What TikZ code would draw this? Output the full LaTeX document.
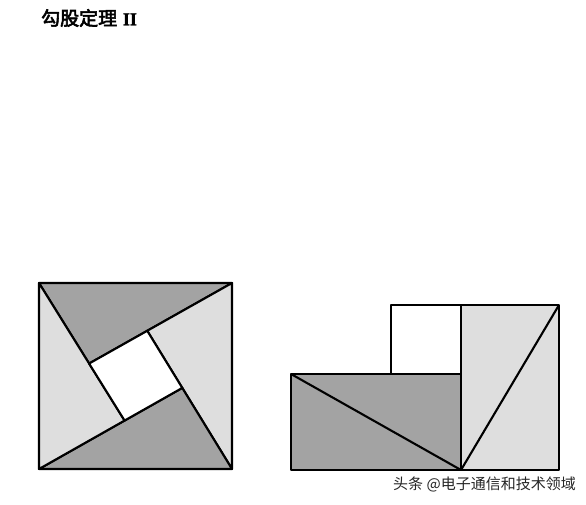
\documentclass[tikz,border=0pt]{standalone}
\usepackage{fontspec}
\newfontfamily\cjk{Noto Sans CJK SC}
\newfontfamily\cjkb[FakeBold=3]{Noto Sans CJK SC}
\newfontfamily\romanb[FakeBold=2]{Liberation Serif Bold}
\definecolor{darkfill}{gray}{0.64}
\definecolor{lightfill}{gray}{0.87}
\tikzset{
  edge/.style={draw=black, line width=2.1pt, line join=round},
  darkpiece/.style={edge, fill=darkfill},
  lightpiece/.style={edge, fill=lightfill},
  whitepiece/.style={edge, fill=white},
}
\begin{document}
\begin{tikzpicture}[x=1pt,y=-1pt]
\useasboundingbox (0,0) rectangle (586,505);
\fill[white] (0,0) rectangle (586,505);
% title
\node[anchor=west, inner sep=0pt, font=\cjkb\fontsize{19}{21}\selectfont] (title) at (41,18) {勾股定理\hspace{0.3em}{\romanb\fontsize{18}{21}\selectfont II}};
% left square
\coordinate (TL) at (39,283);
\coordinate (TR) at (232,283);
\coordinate (BR) at (232,469);
\coordinate (BL) at (39,469);
\coordinate (D1) at (123,418);
\coordinate (D2) at (90,363);
\coordinate (D3) at (148,332);
\coordinate (D4) at (182,388);
\coordinate (P1) at (intersection of TL--D1 and TR--D2);
\coordinate (P2) at (intersection of TR--D2 and BR--D3);
\coordinate (P3) at (intersection of BR--D3 and BL--D4);
\coordinate (P4) at (intersection of BL--D4 and TL--D1);
\path[darkpiece] (TL) -- (TR) -- (P1) -- cycle;
\path[lightpiece] (TR) -- (BR) -- (P2) -- cycle;
\path[darkpiece] (BR) -- (BL) -- (P3) -- cycle;
\path[lightpiece] (BL) -- (TL) -- (P4) -- cycle;
\path[whitepiece] (P1) -- (P2) -- (P3) -- (P4) -- cycle;
% right figure
\coordinate (S1) at (391,305);
\coordinate (S2) at (461,305);
\coordinate (S3) at (461,374);
\coordinate (S4) at (391,374);
\coordinate (R1) at (291,374);
\coordinate (R2) at (291,470);
\coordinate (M) at (461,470);
\coordinate (Q1) at (559,305);
\coordinate (Q2) at (559,470);
\path[darkpiece] (R1) -- (S3) -- (M) -- (R2) -- cycle;
\draw[edge] (R1) -- (M);
\path[lightpiece] (S2) -- (Q1) -- (Q2) -- (M) -- cycle;
\draw[edge] (M) -- (Q1);
\path[whitepiece] (S1) -- (S2) -- (S3) -- (S4) -- cycle;
% watermark
\node[inner sep=0pt, text=black!85, font=\cjk\fontsize{15}{18}\selectfont] (mark) at (484.5,484) {头条 @电子通信和技术领域};
\end{tikzpicture}
\end{document}
